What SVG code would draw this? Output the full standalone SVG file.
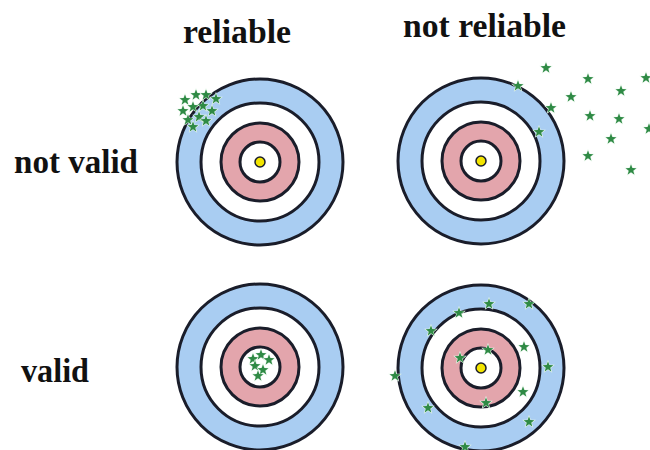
<svg xmlns="http://www.w3.org/2000/svg" xmlns:xlink="http://www.w3.org/1999/xlink" width="650" height="450" viewBox="0 0 650 450">
<style>
.bg{fill:#ffffff}
.ring{stroke:#1a1d2a;stroke-width:3}
.blue{fill:#a9cdf2}
.white{fill:#ffffff}
.pink{fill:#e3a5ac}
.dot{fill:#f2e400;stroke:#1a1d2a;stroke-width:1.5}
.lbl{font-family:"Liberation Serif","Times New Roman",serif;font-weight:bold;font-size:34px;fill:#111111}
.star{fill:#2f8a45;stroke:#e6f6ea;stroke-width:1.1;paint-order:stroke}
</style>
<defs>
<path id="st" d="M0,-5.6 L1.38,-1.9 L5.33,-1.74 L2.24,0.73 L3.29,4.54 L0,2.35 L-3.29,4.54 L-2.24,0.73 L-5.33,-1.74 L-1.38,-1.9 Z"/>
<g id="target">
<circle class="ring blue" r="83"/>
<circle class="ring white" r="59"/>
<circle class="ring pink" r="39"/>
<circle class="ring white" r="20"/>
</g>
</defs>
<rect class="bg" width="650" height="450"/>
<g id="labels">
<text class="lbl" x="183" y="43" textLength="108" lengthAdjust="spacingAndGlyphs">reliable</text>
<text class="lbl" x="403" y="37" textLength="163" lengthAdjust="spacingAndGlyphs">not reliable</text>
<text class="lbl" x="14" y="173" textLength="124" lengthAdjust="spacingAndGlyphs">not valid</text>
<text class="lbl" x="21" y="382" textLength="68" lengthAdjust="spacingAndGlyphs">valid</text>
</g>
<g id="target-reliable-not-valid">
<use xlink:href="#target" x="260" y="162"/>
<circle class="dot" cx="260" cy="162" r="5"/>
<g class="star">
<use xlink:href="#st" x="185" y="100"/><use xlink:href="#st" x="196" y="95"/><use xlink:href="#st" x="206" y="95"/><use xlink:href="#st" x="216" y="99"/>
<use xlink:href="#st" x="183" y="111"/><use xlink:href="#st" x="193" y="107"/><use xlink:href="#st" x="203" y="106"/><use xlink:href="#st" x="212" y="111"/>
<use xlink:href="#st" x="188" y="120"/><use xlink:href="#st" x="199" y="117"/><use xlink:href="#st" x="206" y="121"/><use xlink:href="#st" x="193" y="127"/>
</g>
</g>
<g id="target-not-reliable-not-valid">
<use xlink:href="#target" x="481" y="161"/>
<circle class="dot" cx="481" cy="161" r="5"/>
<g class="star">
<use xlink:href="#st" x="546" y="68"/><use xlink:href="#st" x="588" y="79"/><use xlink:href="#st" x="646" y="78"/><use xlink:href="#st" x="518" y="86"/>
<use xlink:href="#st" x="621" y="91"/><use xlink:href="#st" x="571" y="97"/><use xlink:href="#st" x="551" y="108"/><use xlink:href="#st" x="590" y="116"/>
<use xlink:href="#st" x="619" y="119"/><use xlink:href="#st" x="539" y="132"/><use xlink:href="#st" x="649" y="129"/><use xlink:href="#st" x="611" y="139"/>
<use xlink:href="#st" x="588" y="156"/><use xlink:href="#st" x="631" y="170"/>
</g>
</g>
<g id="target-reliable-valid">
<use xlink:href="#target" x="260" y="367"/>
<g class="star">
<use xlink:href="#st" x="253" y="359"/><use xlink:href="#st" x="261" y="355"/><use xlink:href="#st" x="269" y="360"/>
<use xlink:href="#st" x="255" y="366"/><use xlink:href="#st" x="263" y="370"/><use xlink:href="#st" x="258" y="376"/>
</g>
</g>
<g id="target-not-reliable-valid">
<use xlink:href="#target" x="481" y="368"/>
<circle class="dot" cx="481" cy="368" r="5"/>
<g class="star">
<use xlink:href="#st" x="489" y="304"/><use xlink:href="#st" x="529" y="304"/><use xlink:href="#st" x="459" y="313"/><use xlink:href="#st" x="431" y="331"/>
<use xlink:href="#st" x="524" y="347"/><use xlink:href="#st" x="488" y="350"/><use xlink:href="#st" x="460" y="358"/><use xlink:href="#st" x="548" y="367"/>
<use xlink:href="#st" x="395" y="376"/><use xlink:href="#st" x="523" y="392"/><use xlink:href="#st" x="486" y="403"/><use xlink:href="#st" x="428" y="408"/>
<use xlink:href="#st" x="529" y="422"/><use xlink:href="#st" x="465" y="447"/>
</g>
</g>
</svg>
